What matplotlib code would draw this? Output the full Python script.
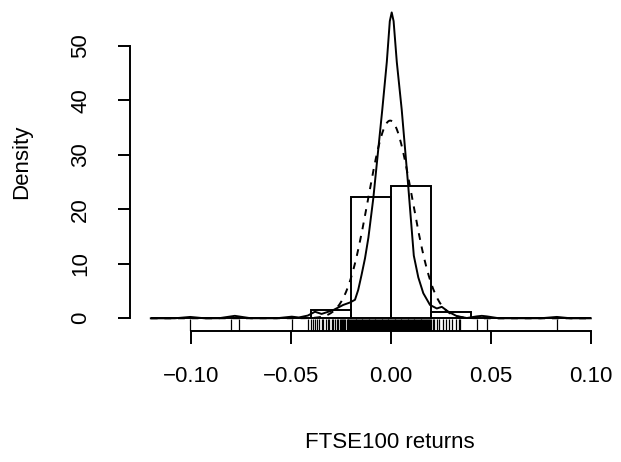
import numpy as np
import matplotlib
matplotlib.use("Agg")
import matplotlib.pyplot as plt

# histogram (density scale), breaks every 0.02
bin_edges = [-0.12, -0.10, -0.08, -0.06, -0.04, -0.02, 0.00, 0.02, 0.04, 0.06, 0.08, 0.10]
bin_density = [0.1, 0.0, 0.1, 0.1, 1.5, 22.2, 24.3, 1.2, 0.1, 0.0, 0.1]

# kernel density estimate
kde_x = [-0.120, -0.108, -0.1003, -0.093, -0.086, -0.078, -0.070, -0.057, -0.0495,
         -0.046, -0.0415, -0.0379, -0.0346, -0.0288, -0.0238, -0.0204, -0.0179,
         -0.0163, -0.0146, -0.0129, -0.0112, -0.00875, -0.00425, -0.0020, -0.0005,
         0.00045, 0.0014, 0.0030, 0.00545, 0.00875, 0.0115, 0.01375, 0.01625, 0.0196,
         0.0230, 0.0255, 0.0288, 0.0330, 0.0380, 0.0430, 0.0455, 0.0480, 0.0540,
         0.0750, 0.0830, 0.0900, 0.1000]
kde_y = [0.0, 0.0, 0.25, 0.0, 0.01, 0.45, 0.01, 0.01, 0.3,
         0.15, 0.5, 1.2, 0.8, 1.5, 2.45, 2.9, 3.4,
         5.2, 8.0, 11.0, 14.8, 22.0, 38.3, 47.0, 54.5,
         56.1, 54.5, 47.0, 38.3, 24.1, 11.5, 7.5, 4.6, 2.45,
         1.8, 2.1, 1.2, 0.4, 0.05, 0.35, 0.45, 0.35, 0.01,
         0.01, 0.25, 0.0, 0.0]

# fitted normal (dashed)
norm_mean = -0.0003
norm_sd = 0.011

# individual returns shown as a rug
rug_values = [
    -0.1003, -0.0797, -0.0758, -0.0492,
    -0.0413, -0.0401, -0.0391, -0.0379, -0.0368, -0.0358, -0.0346, -0.0338,
    -0.0326, -0.0316, -0.0308, -0.0296, -0.0288, -0.0279, -0.0271, -0.0263,
    -0.0254, -0.0249, -0.0243, -0.0238, -0.0232, -0.0227, -0.0221, -0.0216,
    -0.0212, -0.0207, -0.0203, -0.0198, -0.0194, -0.0189, -0.0185, -0.0181,
    -0.0176, -0.0172, -0.0168, -0.0163, -0.0159, -0.0155, -0.0151, -0.0146,
    -0.0142, -0.0137, -0.0133, -0.0129, -0.0124, -0.0120, -0.0116, -0.0111,
    -0.0107, -0.0103, -0.0098, -0.0094, -0.0090, -0.0085, -0.0081, -0.0077,
    -0.0072, -0.0068, -0.0064, -0.0059, -0.0055, -0.0051, -0.0046, -0.0042,
    -0.0038, -0.0033, -0.0029, -0.0025, -0.0020, -0.0016, -0.0012, -0.0007,
    -0.0003, 0.0001, 0.0006, 0.0010, 0.0014, 0.0019, 0.0023, 0.0027,
    0.0032, 0.0036, 0.0040, 0.0045, 0.0049, 0.0053, 0.0058, 0.0062,
    0.0066, 0.0071, 0.0075, 0.0079, 0.0084, 0.0088, 0.0092, 0.0097,
    0.0101, 0.0105, 0.0110, 0.0114, 0.0118, 0.0123, 0.0127, 0.0131,
    0.0136, 0.0140, 0.0144, 0.0149, 0.0153, 0.0157, 0.0162, 0.0166,
    0.0171, 0.0175, 0.0180, 0.0186, 0.0191, 0.0197, 0.0203, 0.0209,
    0.0215, 0.0230, 0.0243, 0.0263, 0.0275, 0.0293, 0.0305, 0.0326,
    0.0341, 0.0346, 0.0433, 0.0480, 0.0830,
]

x_ticks = [-0.10, -0.05, 0.00, 0.05, 0.10]
y_ticks = [0, 10, 20, 30, 40, 50]

plt.rcParams['font.family'] = ['Liberation Sans', 'DejaVu Sans']

fig = plt.figure(figsize=(6.21, 4.62), dpi=100)
# plot region runs past the right edge (reference is cropped there)
ax = fig.add_axes([130 / 621, 131 / 462, 521.6 / 621, 331 / 462])

lw = 1.4

# histogram bars
edges = np.array(bin_edges)
ax.bar(edges[:-1], bin_density, width=np.diff(edges), align='edge',
       facecolor='none', edgecolor='black', linewidth=lw)

# kernel density
ax.plot(kde_x, kde_y, color='black', linewidth=lw)

# normal density
xs = np.linspace(bin_edges[0], bin_edges[-1], 400)
ys = np.exp(-0.5 * ((xs - norm_mean) / norm_sd) ** 2) / (norm_sd * np.sqrt(2 * np.pi))
ax.plot(xs, ys, color='black', linewidth=lw, linestyle=(0, (3.5, 3.5)))

# rug
ax.vlines(rug_values, 0, 0.036, transform=ax.get_xaxis_transform(),
          color='black', linewidth=0.9)

ax.set_xlim(-0.1304, 0.1304)
ax.set_ylim(-2.33, 58.38)

for s in ['top', 'right']:
    ax.spines[s].set_visible(False)
ax.spines['bottom'].set_bounds(-0.10, 0.10)
ax.spines['left'].set_bounds(0, 50)
ax.spines['bottom'].set_linewidth(lw)
ax.spines['left'].set_linewidth(lw)

ax.set_xticks(x_ticks)
ax.set_xticklabels([f'{v:.2f}'.replace('-', '\u2212') for v in x_ticks])
ax.set_yticks(y_ticks)
ax.set_yticklabels([str(v) for v in y_ticks], rotation=90, va='center')

ax.tick_params(axis='both', direction='out', length=9, width=lw,
               labelsize=16, colors='black')
ax.tick_params(axis='x', pad=16)
ax.tick_params(axis='y', pad=19)

ax.set_xlabel('FTSE100 returns', fontsize=16)
ax.xaxis.set_label_coords((390 - 130) / 521.6, -111 / 331)
ax.xaxis.label.set_va('center')
ax.set_ylabel('Density', fontsize=16)
ax.yaxis.set_label_coords(-108 / 521.6, 0.51)
ax.yaxis.label.set_va('center')

fig.savefig('out.png', dpi=100)
